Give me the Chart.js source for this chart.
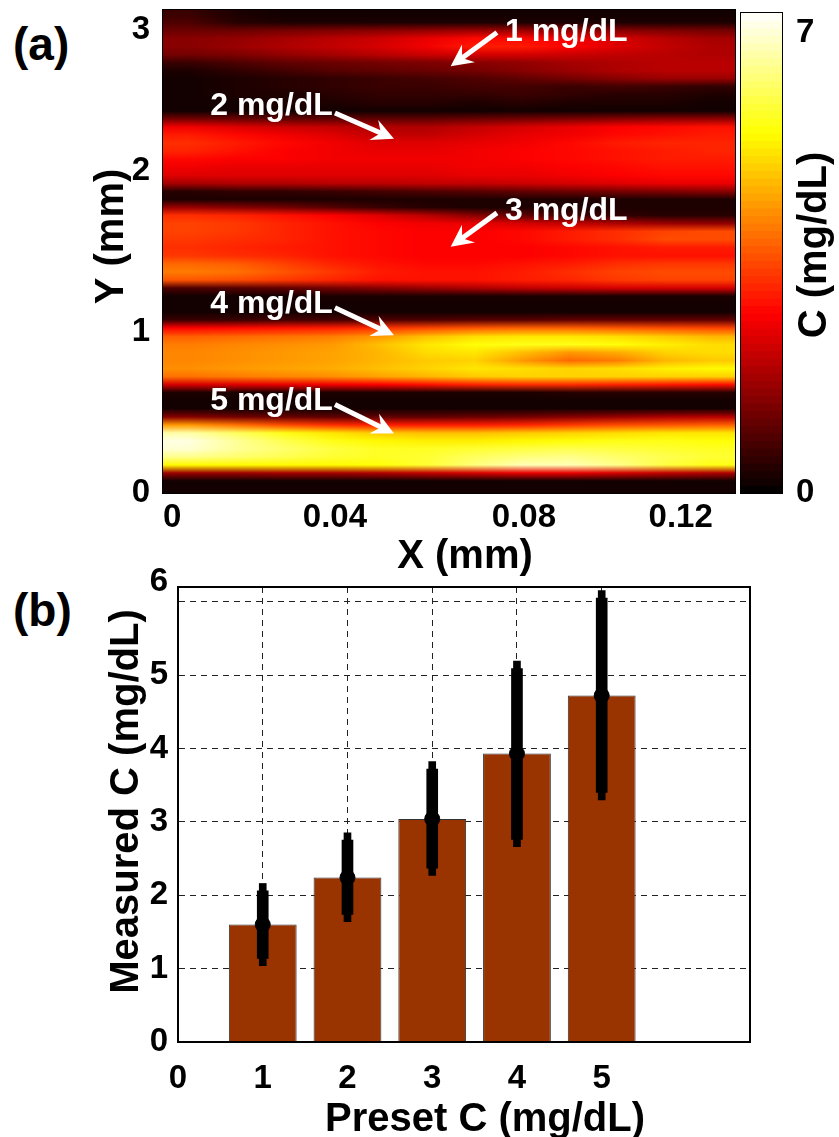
<!DOCTYPE html>
<html>
<head>
<meta charset="utf-8">
<script src="https://cdn.jsdelivr.net/npm/chart.js@4.4.1/dist/chart.umd.min.js"></script>
<style>
  body { margin: 0; background: #fff; width: 839px; height: 1137px; position: relative; overflow: hidden;
         font-family: "Liberation Sans", Arial, sans-serif; }
  canvas { position: absolute; }
  .panel { position: absolute; font-weight: bold; font-size: 46px; line-height: 1; color: #000; }
</style>
</head>
<body>
<div class="panel" style="left:13px;top:21px">(a)</div>
<div class="panel" style="left:13px;top:587px">(b)</div>
<canvas id="heatChart" width="737" height="580" style="left:0;top:0"></canvas>
<canvas id="barChart" width="839" height="587" style="left:0;top:550px"></canvas>
<canvas id="cbarChart" width="102" height="580" style="left:737px;top:0"></canvas>
<script>
  // --- (a) карта концентрации C (mg/dL), строки сверху (Y = 3) вниз (Y = 0)
  const heatX = [0.0036, 0.1247];       // X, mm
  const heatY = [0, 3];                 // Y, mm
  const cRange = [0, 7];
  const heatXTicks = [0.0036, 0.04, 0.08, 0.12];
  const heatXLabels = ["0", "0.04", "0.08", "0.12"];
  const heatYTicks = [0, 1, 2, 3];
  const cTicks = [0, 7];
  const heatRows = [
    [0.6,0.3,0.2,0.2,0.2,0.2,0.2,0.2,0.2,0.2,0.2,0.2],
    [0.8,0.4,0.3,0.3,0.3,0.3,0.3,0.3,0.3,0.3,0.3,0.3],
    [1.1,1.1,1.2,1.3,1.4,1.5,1.6,1.6,1.5,1.4,1.3,1.2],
    [1.4,1.5,1.7,1.9,2.1,2.4,2.7,2.7,2.5,2.2,1.9,1.7],
    [1.4,1.6,1.8,2.0,2.2,2.5,2.9,2.9,2.6,2.3,2.0,1.8],
    [1.2,1.3,1.5,1.7,1.9,2.1,2.2,2.2,2.1,2.0,1.9,1.8],
    [0.6,0.8,1.0,1.1,1.2,1.3,1.4,1.5,1.7,1.8,1.9,1.9],
    [0.3,0.5,0.7,0.9,1.0,1.1,1.2,1.4,1.6,1.8,1.9,1.9],
    [0.2,0.3,0.4,0.5,0.6,0.7,0.8,1.0,1.2,1.4,1.6,1.6],
    [0.2,0.3,0.4,0.5,0.6,0.6,0.7,0.7,0.6,0.7,0.6,0.5],
    [0.2,0.3,0.3,0.4,0.5,0.5,0.5,0.6,0.5,0.4,0.4,0.3],
    [0.2,0.2,0.3,0.3,0.4,0.4,0.3,0.4,0.3,0.3,0.3,0.2],
    [0.2,0.2,0.2,0.2,0.2,0.2,0.2,0.2,0.2,0.2,0.2,0.2],
    [1.2,1.1,1.0,1.0,1.0,1.0,1.1,1.2,1.3,1.4,1.5,1.5],
    [2.5,2.3,2.1,2.0,1.8,1.8,2.0,2.2,2.4,2.6,2.7,2.8],
    [2.9,2.7,2.5,2.3,2.0,2.0,2.2,2.4,2.5,2.7,2.8,2.9],
    [3.1,2.9,2.7,2.5,2.3,2.3,2.4,2.5,2.7,2.9,3.0,3.0],
    [3.0,2.8,2.6,2.5,2.4,2.4,2.5,2.6,2.7,2.8,2.9,3.0],
    [2.7,2.6,2.6,2.5,2.5,2.5,2.5,2.6,2.7,2.8,2.9,2.9],
    [2.5,2.4,2.4,2.4,2.4,2.4,2.5,2.5,2.6,2.7,2.8,2.8],
    [2.3,2.3,2.3,2.3,2.3,2.3,2.4,2.4,2.5,2.6,2.7,2.7],
    [1.7,1.8,1.8,1.9,1.9,2.0,2.0,2.1,2.2,2.3,2.4,2.4],
    [0.4,0.5,0.5,0.6,0.7,0.8,0.9,1.0,1.1,1.2,1.3,1.4],
    [0.3,0.3,0.3,0.3,0.3,0.3,0.3,0.3,0.3,0.3,0.3,0.3],
    [1.6,1.4,1.2,0.9,0.6,0.4,0.3,0.3,0.3,0.3,0.3,0.3],
    [3.1,3.0,2.8,2.6,2.3,1.9,1.4,1.0,0.7,0.5,0.4,0.4],
    [3.3,3.2,3.0,2.8,2.6,2.5,2.4,2.2,2.0,1.8,1.6,1.5],
    [3.3,3.2,3.0,2.8,2.7,2.6,2.6,2.7,2.9,3.1,3.3,3.4],
    [3.2,3.1,3.0,2.8,2.7,2.6,2.6,2.7,2.9,3.1,3.4,3.4],
    [3.1,3.0,2.9,2.8,2.7,2.6,2.6,2.6,2.7,2.8,2.9,2.9],
    [3.2,3.1,3.0,2.8,2.7,2.6,2.6,2.6,2.7,2.8,2.8,2.8],
    [3.7,3.6,3.3,3.0,2.8,2.7,2.7,2.8,2.9,3.1,3.2,3.2],
    [3.9,3.8,3.5,3.2,2.9,2.8,2.8,2.9,3.1,3.3,3.4,3.4],
    [3.5,3.4,3.2,3.0,2.8,2.8,2.8,2.9,3.0,3.2,3.3,3.3],
    [0.8,0.9,1.0,1.2,1.4,1.6,1.8,2.0,2.1,2.2,2.2,2.2],
    [0.2,0.2,0.2,0.3,0.3,0.3,0.3,0.3,0.3,0.3,0.3,0.3],
    [0.2,0.2,0.2,0.2,0.2,0.2,0.2,0.2,0.2,0.2,0.2,0.2],
    [0.2,0.2,0.2,0.2,0.2,0.2,0.2,0.2,0.2,0.2,0.2,0.2],
    [0.6,0.6,0.7,0.7,0.8,0.8,0.9,0.9,1.0,1.0,1.0,1.0],
    [2.6,2.7,2.8,2.9,3.1,3.3,3.5,3.6,3.6,3.5,3.4,3.3],
    [3.6,3.7,3.8,3.9,4.2,4.6,4.9,5.0,5.0,4.9,4.7,4.5],
    [3.9,4.0,4.1,4.2,4.6,5.0,5.3,5.4,5.4,5.3,5.1,4.9],
    [4.0,4.1,4.2,4.3,4.5,4.9,5.0,4.6,4.2,4.4,4.8,4.9],
    [4.0,4.1,4.2,4.3,4.5,4.7,4.8,4.2,3.7,3.9,4.5,4.7],
    [4.1,4.2,4.3,4.4,4.6,4.8,5.0,4.9,4.8,4.9,5.1,5.2],
    [3.8,3.9,4.0,4.1,4.3,4.5,4.7,4.8,4.8,4.8,4.8,4.8],
    [2.2,2.3,2.4,2.5,2.6,2.8,3.0,3.1,3.1,3.0,2.9,2.8],
    [0.3,0.3,0.3,0.3,0.3,0.3,0.3,0.3,0.4,0.4,0.4,0.4],
    [0.2,0.2,0.2,0.2,0.2,0.2,0.2,0.2,0.2,0.2,0.2,0.2],
    [0.2,0.2,0.2,0.2,0.2,0.2,0.2,0.2,0.2,0.2,0.2,0.2],
    [1.4,1.2,1.1,1.0,1.0,1.0,1.1,1.2,1.4,1.6,1.8,1.9],
    [4.2,3.8,3.4,3.1,2.9,2.9,2.9,3.0,3.2,3.4,3.5,3.6],
    [6.4,5.9,5.4,5.0,4.7,4.6,4.6,4.7,4.8,4.9,5.0,5.0],
    [6.8,6.3,5.8,5.4,5.2,5.1,5.1,5.2,5.3,5.4,5.4,5.3],
    [6.7,6.3,6.0,5.7,5.5,5.5,5.6,5.7,5.8,5.7,5.6,5.5],
    [6.2,6.0,5.8,5.6,5.5,5.6,5.9,6.1,6.2,6.0,5.8,5.6],
    [5.2,5.2,5.2,5.2,5.3,5.6,6.1,6.5,6.5,6.2,5.7,5.4],
    [1.6,1.6,1.7,1.7,1.8,2.0,2.2,2.4,2.4,2.2,2.0,1.8],
    [0.2,0.2,0.2,0.2,0.2,0.2,0.2,0.2,0.2,0.2,0.2,0.2],
    [0.2,0.2,0.2,0.2,0.2,0.2,0.2,0.2,0.2,0.2,0.2,0.2]
  ];

  // подписи со стрелками (координаты в мм)
  const noteText = ["1 mg/dL", "2 mg/dL", "3 mg/dL", "4 mg/dL", "5 mg/dL"];
  const noteAt = [[0.0760, 2.86], [0.0136, 2.40], [0.0760, 1.75], [0.0136, 1.17], [0.0136, 0.57]];
  const arrowFrom = [[0.0743, 2.86], [0.0400, 2.36], [0.0743, 1.74], [0.0400, 1.15], [0.0400, 0.55]];
  const arrowTo = [[0.0645, 2.65], [0.0525, 2.20], [0.0645, 1.53], [0.0525, 0.98], [0.0525, 0.37]];

  // --- (b) измеренная концентрация
  const presetC = [1, 2, 3, 4, 5];
  const measuredMean = [1.60, 2.24, 3.04, 3.93, 4.72];
  const measuredLow = [1.04, 1.64, 2.27, 2.66, 3.30];
  const measuredHigh = [2.16, 2.85, 3.82, 5.19, 6.15];
  const barXTicks = [0, 1, 2, 3, 4, 5];
  const barYTicks = [0, 1, 2, 3, 4, 5, 6];

  const FONT = "'Liberation Sans', Arial, sans-serif";
  const tickFont = { family: FONT, size: 33, weight: "bold" };

  // палитра "hot"
  function hot(t) {
    t = Math.max(0, Math.min(1, t));
    const r = Math.min(1, t / 0.375);
    const g = Math.max(0, Math.min(1, (t - 0.375) / 0.375));
    const b = Math.max(0, (t - 0.75) / 0.25);
    return [r, g, b].map(v => Math.round(v * 255));
  }

  // подписи осей рисуем сами, чтобы сдвинуть их как в оригинале
  function axisTitles(items) {
    return {
      id: "axisTitles",
      afterDraw(chart) {
        const { ctx, chartArea: a } = chart;
        ctx.save();
        ctx.fillStyle = "#000";
        ctx.font = "bold 40px " + FONT;
        ctx.textAlign = "center";
        ctx.textBaseline = "middle";
        items.forEach(t => {
          if (t.axis === "x") {
            ctx.fillText(t.text, (a.left + a.right) / 2 + t.shift, t.pos);
          } else {
            ctx.save();
            ctx.translate(t.pos, (a.top + a.bottom) / 2 + t.shift);
            ctx.rotate(-Math.PI / 2);
            ctx.fillText(t.text, 0, 0);
            ctx.restore();
          }
        });
        ctx.restore();
      }
    };
  }

  const noPadY = s => { s.paddingTop = 0; s.paddingBottom = 0; };
  const noPadX = s => { s.paddingLeft = 0; s.paddingRight = 0; };

  const heatPlugin = {
    id: "heat",
    beforeDatasetsDraw(chart) {
      const { ctx, scales: { x, y } } = chart;
      const rows = heatRows.length, cols = heatRows[0].length;
      const off = document.createElement("canvas");
      off.width = cols; off.height = rows;
      const octx = off.getContext("2d");
      const img = octx.createImageData(cols, rows);
      heatRows.forEach((row, i) => row.forEach((v, j) => {
        const c = hot((v - cRange[0]) / (cRange[1] - cRange[0]));
        const k = (i * cols + j) * 4;
        img.data[k] = c[0]; img.data[k + 1] = c[1]; img.data[k + 2] = c[2]; img.data[k + 3] = 255;
      }));
      octx.putImageData(img, 0, 0);
      const x0 = x.getPixelForValue(heatX[0]), x1 = x.getPixelForValue(heatX[1]);
      const y0 = y.getPixelForValue(heatY[1]), y1 = y.getPixelForValue(heatY[0]);
      ctx.save();
      ctx.imageSmoothingEnabled = true;
      ctx.drawImage(off, x0, y0, x1 - x0, y1 - y0);
      ctx.strokeStyle = "#000";
      ctx.lineWidth = 1;
      ctx.strokeRect(x0 - 0.5, y0 - 0.5, x1 - x0 + 1, y1 - y0 + 1);
      ctx.restore();
    },
    afterDatasetsDraw(chart) {
      const { ctx, scales: { x, y } } = chart;
      ctx.save();
      ctx.fillStyle = "#fff";
      ctx.strokeStyle = "#fff";
      ctx.font = "bold 32px " + FONT;
      ctx.textBaseline = "middle";
      noteText.forEach((t, i) => {
        ctx.fillText(t, x.getPixelForValue(noteAt[i][0]), y.getPixelForValue(noteAt[i][1]));
        const ax = x.getPixelForValue(arrowFrom[i][0]), ay = y.getPixelForValue(arrowFrom[i][1]);
        const bx = x.getPixelForValue(arrowTo[i][0]), by = y.getPixelForValue(arrowTo[i][1]);
        const ang = Math.atan2(by - ay, bx - ax);
        const cs = Math.cos(ang), sn = Math.sin(ang);
        const L = 22, W = 11;
        ctx.lineWidth = 5;
        ctx.beginPath();
        ctx.moveTo(ax, ay);
        ctx.lineTo(bx - cs * 12, by - sn * 12);
        ctx.stroke();
        ctx.beginPath();
        ctx.moveTo(bx, by);
        ctx.lineTo(bx - L * cs + W * sn, by - L * sn - W * cs);
        ctx.lineTo(bx - 0.65 * L * cs, by - 0.65 * L * sn);
        ctx.lineTo(bx - L * cs - W * sn, by - L * sn + W * cs);
        ctx.closePath();
        ctx.fill();
      });
      ctx.restore();
    }
  };

  new Chart(document.getElementById("heatChart"), {
    type: "scatter",
    data: { datasets: [] },
    options: {
      responsive: false,
      animation: false,
      layout: { padding: { left: 0, right: 2, top: 10, bottom: 0 } },
      plugins: { legend: { display: false }, tooltip: { enabled: false } },
      scales: {
        x: {
          type: "linear", min: heatX[0], max: heatX[1],
          afterBuildTicks: s => { s.ticks = heatXTicks.map(v => ({ value: v })); },
          afterFit: s => { s.height = 87; noPadX(s); },
          grid: { display: false }, border: { display: false },
          ticks: { color: "#000", font: tickFont, padding: -3, maxRotation: 0, autoSkip: false, align: "inner",
                   callback: (v, i) => heatXLabels[i] }
        },
        y: {
          type: "linear", min: heatY[0], max: heatY[1],
          afterBuildTicks: s => { s.ticks = heatYTicks.map(v => ({ value: v })); },
          afterFit: s => { s.width = 163; noPadY(s); },
          grid: { display: false }, border: { display: false },
          ticks: { color: "#000", font: tickFont, padding: 5, autoSkip: false,
                   callback: (v, i, t) => i === t.length - 1 ? ["", String(v)] : String(v) }
        }
      }
    },
    plugins: [heatPlugin, axisTitles([
      { axis: "x", text: "X (mm)", pos: 557, shift: 16 },
      { axis: "y", text: "Y (mm)", pos: 112, shift: -15 }
    ])]
  });

  // шкала цвета
  const cbarPlugin = {
    id: "cbar",
    beforeDatasetsDraw(chart) {
      const { ctx, chartArea: a, scales: { y } } = chart;
      const n = 64;
      ctx.save();
      for (let k = 0; k < n; k++) {
        const v0 = cRange[0] + (cRange[1] - cRange[0]) * k / n;
        const v1 = cRange[0] + (cRange[1] - cRange[0]) * (k + 1) / n;
        const c = hot((k + 0.5) / n);
        ctx.fillStyle = `rgb(${c[0]},${c[1]},${c[2]})`;
        const p0 = y.getPixelForValue(v0), p1 = y.getPixelForValue(v1);
        ctx.fillRect(a.left, p1, a.right - a.left, p0 - p1 + 0.6);
      }
      ctx.strokeStyle = "#000";
      ctx.lineWidth = 1;
      ctx.strokeRect(a.left - 0.5, a.top - 0.5, a.right - a.left + 1, a.bottom - a.top + 1);
      ctx.fillStyle = "#000";
      ctx.font = "bold 40px " + FONT;
      ctx.textAlign = "center";
      ctx.textBaseline = "middle";
      ctx.translate(y.right - 24, (a.top + a.bottom) / 2 - 8);
      ctx.rotate(-Math.PI / 2);
      ctx.fillText("C (mg/dL)", 0, 0);
      ctx.restore();
    }
  };

  new Chart(document.getElementById("cbarChart"), {
    type: "scatter",
    data: { datasets: [] },
    options: {
      responsive: false,
      animation: false,
      layout: { padding: { left: 4, right: 0, top: 13, bottom: 87 } },
      plugins: { legend: { display: false }, tooltip: { enabled: false } },
      scales: {
        x: { type: "linear", display: false },
        y: {
          type: "linear", position: "right", min: cRange[0], max: cRange[1],
          afterBuildTicks: s => { s.ticks = cTicks.map(v => ({ value: v })); },
          afterFit: s => { s.width = 57; noPadY(s); },
          grid: { display: false }, border: { display: false },
          ticks: { color: "#000", font: tickFont, padding: 6, autoSkip: false,
                   callback: (v, i, t) => i === t.length - 1 ? ["", String(v)] : String(v) }
        }
      }
    },
    plugins: [cbarPlugin]
  });

  // рамка вокруг графика (b)
  const boxPlugin = {
    id: "box",
    afterDatasetsDraw(chart) {
      const { ctx, chartArea: a } = chart;
      ctx.save();
      ctx.strokeStyle = "#000";
      ctx.lineWidth = 2;
      ctx.strokeRect(a.left, a.top, a.right - a.left, a.bottom - a.top);
      ctx.restore();
    }
  };

  const tip = 0.1; // узкий кончик планки погрешности
  new Chart(document.getElementById("barChart"), {
    type: "bar",
    data: {
      datasets: [
        { type: "scatter", data: presetC.map((x, i) => ({ x, y: measuredMean[i] })),
          pointRadius: 7.5, backgroundColor: "#000", borderColor: "#000", order: 1 },
        { type: "bar", data: presetC.map((x, i) => ({ x, y: [measuredLow[i] + tip, measuredHigh[i] - tip] })),
          backgroundColor: "#000", barThickness: 11, grouped: false, order: 2 },
        { type: "bar", data: presetC.map((x, i) => ({ x, y: [measuredLow[i], measuredHigh[i]] })),
          backgroundColor: "#000", barThickness: 7, grouped: false, order: 2 },
        { type: "bar", data: presetC.map((x, i) => ({ x, y: measuredMean[i] })),
          backgroundColor: "#993300", borderColor: "#333", borderWidth: 1,
          barPercentage: 0.8, categoryPercentage: 1, grouped: false, order: 3 }
      ]
    },
    options: {
      responsive: false,
      animation: false,
      layout: { padding: { left: 0, right: 89, top: 37, bottom: 0 } },
      plugins: { legend: { display: false }, tooltip: { enabled: false } },
      scales: {
        x: {
          type: "linear", min: 0, max: 6.75, offset: false,
          afterBuildTicks: s => { s.ticks = barXTicks.map(v => ({ value: v })); },
          afterFit: s => { s.height = 95; noPadX(s); },
          grid: { offset: false, color: "#222", lineWidth: 1, drawTicks: false },
          border: { color: "#000", width: 2, dash: [6, 5] },
          ticks: { color: "#000", font: tickFont, padding: 17, maxRotation: 0, autoSkip: false }
        },
        y: {
          type: "linear", min: 0, max: 6.2,
          afterBuildTicks: s => { s.ticks = barYTicks.map(v => ({ value: v })); },
          afterFit: s => { s.width = 178; noPadY(s); },
          grid: { color: "#222", lineWidth: 1, drawTicks: false },
          border: { color: "#000", width: 2, dash: [6, 5] },
          ticks: { color: "#000", font: tickFont, padding: 10, autoSkip: false,
                   callback: (v, i, t) => i === t.length - 1 ? [String(v), ""] : String(v) }
        }
      }
    },
    plugins: [boxPlugin, axisTitles([
      { axis: "x", text: "Preset C (mg/dL)", pos: 570, shift: 21 },
      { axis: "y", text: "Measured C (mg/dL)", pos: 127, shift: -13 }
    ])]
  });
</script>
</body>
</html>
